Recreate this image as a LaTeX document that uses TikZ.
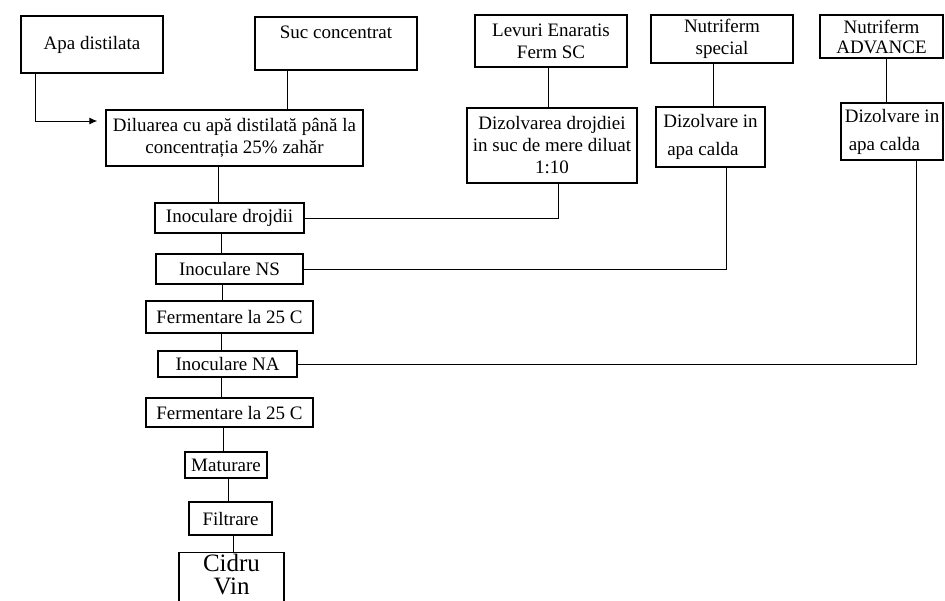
\documentclass[tikz,border=0pt]{standalone}
\usepackage{fontspec}
\setmainfont{Liberation Serif}
\usetikzlibrary{arrows.meta}

\begin{document}
\begin{tikzpicture}[x=0.5pt,y=-0.5pt]
    \tikzset{%
      box/.style={draw, rectangle, line width=0.7pt, inner sep=0pt,
        align=center, font=\fontsize{9.5}{11}\selectfont},
      wire/.style={line width=0.5pt},
      arr/.style={line width=0.5pt, -{Latex[length=4pt,width=3.5pt]},
        shorten >=4pt},
    }
    \clip (0,0) rectangle (945,600);
    % inputs
    \node[box, minimum width=71pt, minimum height=28.5pt] (apa) at (92,44.5) {Apa distilata};
    \node[box, minimum width=81pt, minimum height=26.5pt] (suc) at (336,43.5) {Suc concentrat\\\mbox{}};
    \node[box, minimum width=76pt, minimum height=26pt] (lev) at (551,41) {Levuri Enaratis\\Ferm SC};
    \node[box, minimum width=71pt, minimum height=24pt] (nsp) at (722,39) {Nutriferm\\special};
    \node[box, minimum width=61.5pt, minimum height=21.5pt] (nadv) at (881.5,36.5) {Nutriferm\\[-1pt]ADVANCE};

    % preparation
    \node[box, minimum width=128.5pt, minimum height=28pt] (dil) at (234.5,138)
      {Diluarea cu apă distilată până la\\concentrația 25\% zahăr};
    \node[box, minimum width=85pt, minimum height=37.5pt] (dizd) at (552,145.5)
      {Dizolvarea drojdiei\\in suc de mere diluat\\1:10};
    \node[box, align=left, minimum width=54.5pt, minimum height=30pt] (dizns) at (710.5,137)
      {Dizolvare in\\[3pt]\hspace{2pt}apa calda};
    \node[box, align=left, minimum width=51pt, minimum height=28.5pt] (dizna) at (892,131.5)
      {Dizolvare in\\[3pt]\hspace{2pt}apa calda};

    % main line
    \node[box, minimum width=74.5pt, minimum height=15pt] (inod) at (229.5,218) {Inoculare drojdii};
    \node[box, minimum width=73.5pt, minimum height=15pt] (inns) at (229.5,269) {Inoculare NS};
    \node[box, minimum width=83.5pt, minimum height=16pt] (fer1) at (229.5,317) {Fermentare la 25 C};
    \node[box, minimum width=69.5pt, minimum height=13pt] (inna) at (227.5,364) {Inoculare NA};
    \node[box, minimum width=83.5pt, minimum height=14.5pt] (fer2) at (229.5,412.5) {Fermentare la 25 C};
    \node[box, minimum width=41pt, minimum height=13pt] (mat) at (226,465) {Maturare};
    \node[box, minimum width=41.5pt, minimum height=16.5pt] (filt) at (230.5,518.5) {Filtrare};
    \node[box, anchor=north, inner ysep=0.5pt, minimum width=52.5pt, font=\fontsize{12.5}{11.5}\selectfont]
      (cid) at (231.5,552) {Cidru\\Vin\\\mbox{}};

    % \draw [->] (apa) -- (dil);
    \draw [arr] ([xshift=-28.5pt]apa.south) |- ([yshift=8.5pt]dil.west);
    \draw [wire] ([xshift=-24.5pt]suc.south) -- ([xshift=-24.5pt]suc.south |- dil.north);
    \draw [wire] ([xshift=-1.5pt]lev.south) -- ([xshift=-1.5pt]lev.south |- dizd.north);
    \draw [wire] ([xshift=-4.5pt]nsp.south) -- ([xshift=-4.5pt]nsp.south |- dizns.north);
    \draw [wire] ([xshift=2.25pt]nadv.south) -- ([xshift=2.25pt]nadv.south |- dizna.north);

    \draw [wire] ([xshift=3pt]dizd.south) |- (inod.east);
    \draw [wire] ([xshift=7.75pt]dizns.south) |- (inns.east);
    \draw [wire] ([xshift=12pt]dizna.south) |- (inna.east);

    \draw [wire] ([xshift=-8.25pt]dil.south) -- ([xshift=-8.25pt]dil.south |- inod.north);
    \draw [wire] ([xshift=-4.25pt]inod.south) -- ([xshift=-4.25pt]inod.south |- inns.north);
    \draw [wire] ([xshift=-3.75pt]inns.south) -- ([xshift=-3.75pt]inns.south |- fer1.north);
    \draw [wire] ([xshift=-4.25pt]fer1.south) -- ([xshift=-4.25pt]fer1.south |- inna.north);
    \draw [wire] ([xshift=-3.25pt]inna.south) -- ([xshift=-3.25pt]inna.south |- fer2.north);
    \draw [wire] ([xshift=-3.25pt]fer2.south) -- ([xshift=-3.25pt]fer2.south |- mat.north);
    \draw [wire] ([xshift=1pt]mat.south) -- ([xshift=1pt]mat.south |- filt.north);
    \draw [wire] ([xshift=1.25pt]filt.south) -- ([xshift=1.25pt]filt.south |- cid.north);
    %\node [black] at (231.5,600) {};
\end{tikzpicture}
\end{document}
